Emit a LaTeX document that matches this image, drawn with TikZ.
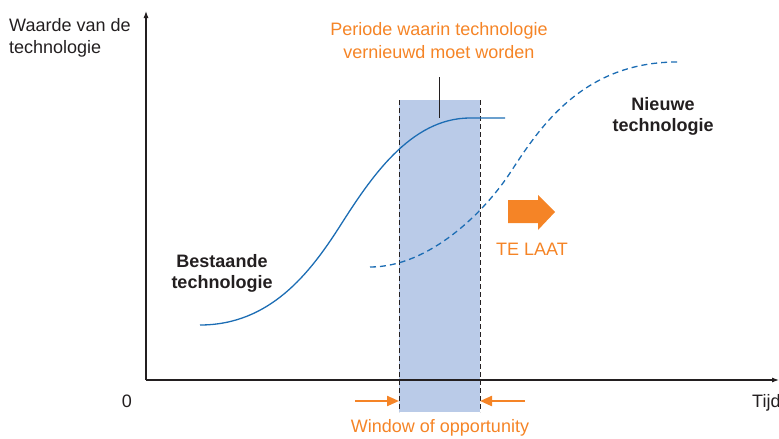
\documentclass[tikz,border=0pt]{standalone}
\usepackage{fontspec}
\setmainfont{Liberation Sans}
\usetikzlibrary{arrows.meta}
\definecolor{orng}{HTML}{F58426}
\definecolor{curveblue}{HTML}{1C6DB4}
\definecolor{winfill}{HTML}{BACBE8}
\definecolor{axisgray}{HTML}{231F20}
\tikzset{
  lbl/.style={font=\fontsize{18}{22}\selectfont, text=axisgray, inner sep=0pt},
  olbl/.style={font=\fontsize{18}{23}\selectfont, text=orng, inner sep=0pt, align=center},
  blbl/.style={font=\fontsize{18}{21}\selectfont\bfseries, text=axisgray, inner sep=0pt, align=center},
  axisline/.style={draw=axisgray, line width=1.1pt, -{Latex[length=7pt,width=5pt]}},
  edgeline/.style={draw=axisgray, line width=0.8pt, dash pattern=on 5pt off 3pt},
  curve/.style={draw=curveblue, line width=1.3pt},
  oarrow/.style={draw=orng, line width=2.2pt, -{Triangle[length=12pt,width=10pt]}},
}
\begin{document}
\begin{tikzpicture}[x=1pt,y=-1pt]
\useasboundingbox (0,0) rectangle (779,439);
% window rectangle
\fill[winfill] (399,100) rectangle (480,412);
\coordinate (wtl) at (399,100);
\coordinate (wbl) at (399,412);
\coordinate (wtr) at (480,100);
\coordinate (wbr) at (480,412);
\draw[edgeline] (wtl) -- (wbl);
\draw[edgeline] (wtr) -- (wbr);
% axes
\coordinate (origin) at (146,380);
\coordinate (ytop) at (146,11);
\coordinate (xend) at (779,380);
\draw[axisline] (origin) -- (ytop);
\draw[axisline] (origin) -- (xend);
% labels axes
\node[lbl, align=left, anchor=north west] (ylab) at (9,18) {Waarde van de\\technologie};
\node[lbl, anchor=base] (zero) at (127,407) {0};
\node[lbl, anchor=base west] (tijd) at (752,407) {Tijd};
% period label and tick
\node[olbl, anchor=north] (period) at (439,22) {Periode waarin technologie\\vernieuwd moet worden};
\coordinate (tickt) at (439,77);
\coordinate (tickb) at (439,118);
\draw[axisgray, line width=1pt] (tickt) -- (tickb);
% existing technology curve
\draw[curve] (200,325) .. controls (270,325) and (310,273) .. (340,226)
  .. controls (370,179) and (410,118) .. (470,118) -- (505,118);
% new technology curve
\draw[curve, dash pattern=on 6pt off 4pt] (370,267) .. controls (430,267) and (485,211) .. (510,173)
  .. controls (537,132) and (580,62) .. (677,62);
% text labels
\node[blbl, anchor=north] (bestaande) at (222,254) {Bestaande\\technologie};
\node[blbl, anchor=north] (nieuwe) at (663,97) {Nieuwe\\technologie};
% orange big arrow
\fill[orng] (508,200) -- (538,200) -- (538,195) -- (555,212) -- (538,230) -- (538,223) -- (508,223) -- cycle;
\node[olbl, anchor=base] (telaat) at (532,255) {TE LAAT};
% bottom arrows
\coordinate (la) at (355,401);
\coordinate (ra) at (525,401);
\coordinate (lb) at (399,401);
\coordinate (rb) at (480,401);
\draw[oarrow] (la) -- (lb);
\draw[oarrow] (ra) -- (rb);
\node[olbl, anchor=base] (window) at (440,432) {Window of opportunity};
\end{tikzpicture}
\end{document}
